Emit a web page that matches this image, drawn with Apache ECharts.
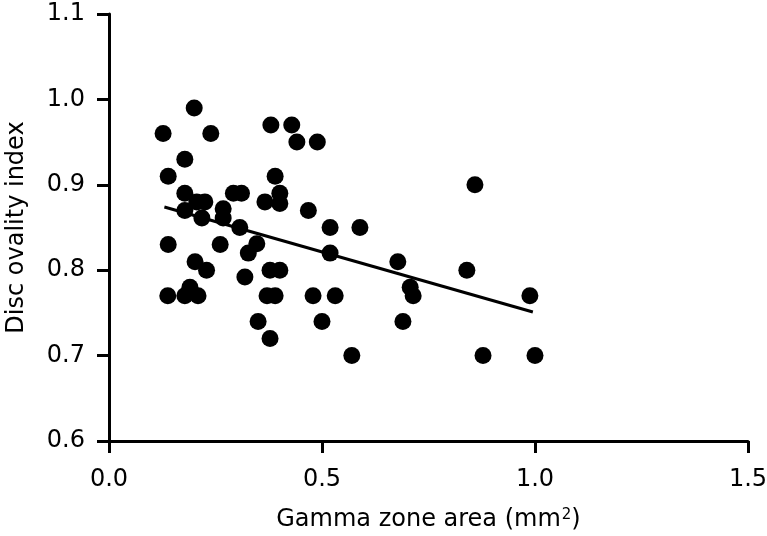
<!DOCTYPE html>
<html>
<head>
<meta charset="utf-8">
<script src="https://cdn.jsdelivr.net/npm/echarts@6/dist/echarts.min.js"></script>
<style>
  html, body { margin: 0; padding: 0; background: #fff; }
  #chart { width: 767px; height: 536px; }
</style>
</head>
<body>
<div id="chart"></div>
<script>
// gamma zone area (mm2) vs disc ovality index
var gammaArea = [
  0.127, 0.200, 0.239, 0.178, 0.139, 0.178, 0.206, 0.225, 0.268, 0.178,
  0.218, 0.268, 0.292, 0.311, 0.307, 0.366, 0.401, 0.401, 0.390, 0.468,
  0.519, 0.519, 0.139, 0.261, 0.347, 0.327, 0.202, 0.229, 0.319, 0.378,
  0.401, 0.380, 0.429, 0.441, 0.489, 0.589, 0.138, 0.178, 0.190, 0.209,
  0.371, 0.390, 0.479, 0.531, 0.350, 0.500, 0.378, 0.570, 0.859, 0.678,
  0.840, 0.707, 0.714, 0.988, 0.690, 0.878, 1.000
];
var ovality = [
  0.96, 0.99, 0.96, 0.93, 0.91, 0.89, 0.88, 0.88, 0.872, 0.87,
  0.861, 0.861, 0.89, 0.89, 0.85, 0.88, 0.89, 0.878, 0.91, 0.87,
  0.85, 0.82, 0.83, 0.83, 0.831, 0.82, 0.81, 0.80, 0.792, 0.80,
  0.80, 0.97, 0.97, 0.95, 0.95, 0.85, 0.77, 0.77, 0.78, 0.77,
  0.77, 0.77, 0.77, 0.77, 0.74, 0.74, 0.72, 0.70, 0.90, 0.81,
  0.80, 0.78, 0.77, 0.77, 0.74, 0.70, 0.70
];
// fitted line end points
var trendX = [0.13, 0.995];
var trendY = [0.874, 0.751];

var xTicks = { min: 0, max: 1.5, step: 0.5 };
var yTicks = { min: 0.6, max: 1.1, step: 0.1 };

var points = [];
for (var i = 0; i < gammaArea.length; i++) {
  points.push([gammaArea[i], ovality[i]]);
}
var trend = [];
for (var j = 0; j < trendX.length; j++) {
  trend.push([trendX[j], trendY[j]]);
}

var font = '"DejaVu Sans", "Liberation Sans", sans-serif';
var axisStyle = {
  axisLine: { show: true, onZero: false, lineStyle: { color: '#000', width: 3 } },
  axisTick: { show: true, inside: false, length: 12, lineStyle: { color: '#000', width: 3 } },
  splitLine: { show: false }
};

var chart = echarts.init(document.getElementById('chart'));
chart.setOption({
  backgroundColor: '#fff',
  animation: false,
  grid: { left: 109, right: 19, top: 14, bottom: 95, containLabel: false, outerBoundsMode: 'none' },
  xAxis: Object.assign({
    type: 'value',
    min: xTicks.min,
    max: xTicks.max,
    interval: xTicks.step,
    name: 'Gamma zone area (mm{sup|2})',
    nameLocation: 'middle',
    nameGap: 67,
    nameTextStyle: {
      color: '#000', fontFamily: font, fontSize: 24,
      rich: { sup: { fontSize: 15, verticalAlign: 'top', color: '#000', fontFamily: font, padding: [0, 0, 8, 1] } }
    },
    axisLabel: {
      color: '#000', fontFamily: font, fontSize: 24, margin: 27,
      formatter: function (v) { return v.toFixed(1); }
    }
  }, axisStyle),
  yAxis: Object.assign({
    type: 'value',
    min: yTicks.min,
    max: yTicks.max,
    interval: yTicks.step,
    name: 'Disc ovality index',
    nameLocation: 'middle',
    nameGap: 80,
    nameTextStyle: { color: '#000', fontFamily: font, fontSize: 24 },
    axisLabel: {
      color: '#000', fontFamily: font, fontSize: 24, margin: 24,
      formatter: function (v) { return v.toFixed(1); }
    }
  }, axisStyle),
  series: [
    {
      type: 'scatter',
      data: points,
      symbol: 'circle',
      symbolSize: 17,
      itemStyle: { color: '#000', opacity: 1 },
      silent: true
    },
    {
      type: 'line',
      data: trend,
      showSymbol: false,
      lineStyle: { color: '#000', width: 3 },
      silent: true
    }
  ]
});
</script>
</body>
</html>
